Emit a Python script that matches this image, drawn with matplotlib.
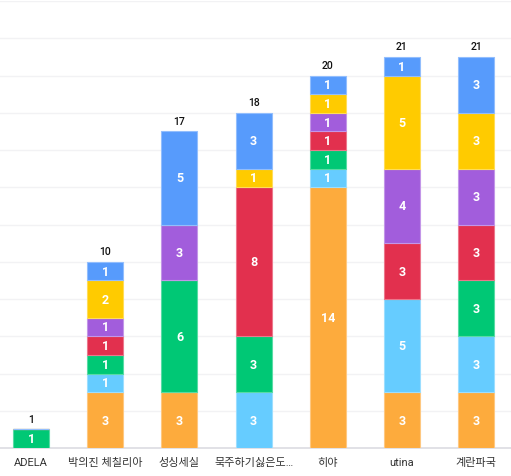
import matplotlib
matplotlib.use("Agg")
import matplotlib.pyplot as plt
import matplotlib.colors as mcolors
import numpy as np

plt.rcParams['font.family'] = ['Roboto', 'Noto Sans CJK KR', 'DejaVu Sans']

categories = ["ADELA", "박의진 체칠리아", "성싱세실", "묵주하기싫은도…", "히야", "utina", "계란파국"]
series_names = ["orange", "lightblue", "green", "red", "purple", "yellow", "blue"]
colors = ["#FDAB3D", "#66CCFF", "#00C875", "#E2304E", "#A25DDC", "#FFCB00", "#579BFC"]
orange = [0, 3, 3, 0, 14, 3, 3]
lightblue = [0, 1, 0, 3, 1, 5, 3]
green = [1, 1, 6, 3, 1, 0, 3]
red = [0, 1, 0, 8, 1, 3, 3]
purple = [0, 1, 3, 0, 1, 4, 3]
yellow = [0, 2, 0, 1, 1, 5, 3]
blue = [0, 1, 5, 3, 1, 1, 3]
series = [orange, lightblue, green, red, purple, yellow, blue]

fig = plt.figure(figsize=(5.11, 4.77), dpi=100)
ax = fig.add_axes([0.0, 0.0587, 1.0, 0.937])

x = np.arange(len(categories))
width = 0.485
bottom = np.zeros(len(categories))
for vals, col in zip(series, colors):
    vals = np.array(vals, dtype=float)
    light = mcolors.to_rgb(col)
    edge = tuple(c + (1 - c) * 0.35 for c in light)
    ax.bar(x, vals, width, bottom=bottom, color=col, edgecolor=edge, linewidth=0.8, zorder=3)
    for xi, v, b in zip(x, vals, bottom):
        if v > 0:
            ax.text(xi, b + v / 2, f"{int(v)}", ha="center", va="center", color="white",
                    fontsize=9, fontweight="bold", zorder=4)
    bottom += vals

for xi, t in zip(x, bottom):
    ax.text(xi, t + 0.3, f"{int(t)}", ha="center", va="bottom", color="#111111",
            fontsize=7.5, fontweight="medium", zorder=4)

ax.set_xlim(-0.42, 6.47)
ax.set_ylim(0, 24)
ax.set_yticks(np.arange(0, 25, 2))
ax.yaxis.grid(True, color="#F2F2F4", linewidth=1, zorder=0)
ax.set_axisbelow(True)
ax.tick_params(axis="y", left=False, labelleft=False)
ax.set_xticks(x)
ax.set_xticklabels(categories, fontsize=8, color="#333333")
ax.tick_params(axis="x", length=0, pad=6.5)
for s in ["top", "right", "left"]:
    ax.spines[s].set_visible(False)
ax.spines["bottom"].set_color("#DCDCE2")
ax.spines["bottom"].set_linewidth(1.2)

fig.savefig("out.png", dpi=100)
